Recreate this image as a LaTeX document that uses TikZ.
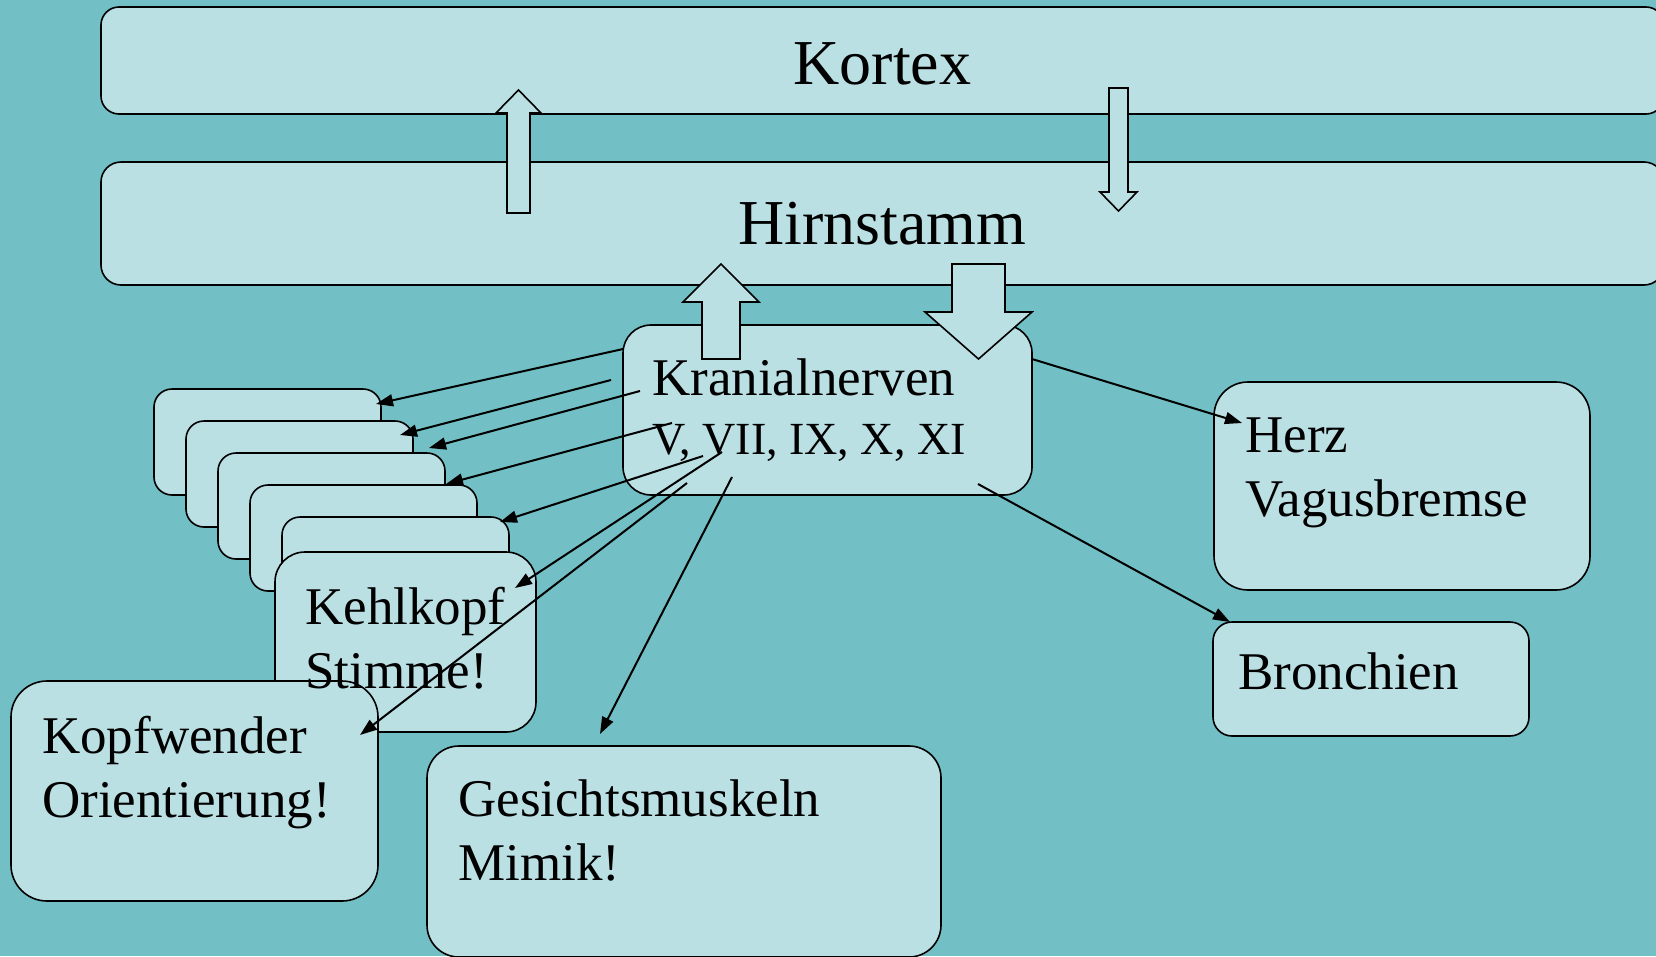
\documentclass[tikz,border=0pt]{standalone}
\usepackage{fontspec}
\setmainfont{Liberation Serif}
\usetikzlibrary{arrows.meta, positioning}
\definecolor{bgteal}{RGB}{114,191,197}
\definecolor{boxcyan}{RGB}{187,224,228}

\begin{document}
\begin{tikzpicture}[
  x=1pt, y=-1pt,
  box/.style={draw, fill=boxcyan, line width=1.6pt, anchor=north west,
              inner sep=0pt, outer sep=0pt},
  txt/.style={anchor=north west, align=left, inner sep=0pt,
              font=\fontsize{53}{64}\selectfont},
  big/.style={font=\fontsize{64}{70}\selectfont},
  arr/.style={-{Triangle[length=17pt, width=12pt]}, line width=2pt},
  hollow/.style={draw, fill=boxcyan, line width=1.6pt},
]
\fill[bgteal] (0,0) rectangle (1656,956);
\useasboundingbox (0,0) rectangle (1656,956);
\clip (0,0) rectangle (1656,956);

% stack of empty cards behind Kehlkopf
\foreach \i in {1,...,5}
  \node[box, rounded corners=18pt, minimum width=227pt, minimum height=106pt]
    (s\i) at (122+32*\i, 357+32*\i) {};

\node[box, rounded corners=30pt, minimum width=261pt, minimum height=180pt] (kehl) at (275,552) {};
\node[box, rounded corners=36pt, minimum width=367pt, minimum height=220pt] (kopf) at (11,681) {};
\node[box, rounded corners=32pt, minimum width=514pt, minimum height=211pt] (gesicht) at (427,746) {};
\node[box, rounded corners=34pt, minimum width=376pt, minimum height=208pt] (herz) at (1214,382) {};
\node[box, rounded corners=19pt, minimum width=316pt, minimum height=114pt] (bron) at (1213,622) {};

\node[box, big, text height=48pt, rounded corners=18pt, minimum width=1563pt, minimum height=107pt] (kortex) at (101,7) {Kortex};
\node[box, big, rounded corners=20pt, minimum width=1563pt, minimum height=123pt] (hirn) at (101,162) {Hirnstamm};
\node[box, rounded corners=28pt, minimum width=409pt, minimum height=170pt] (kran) at (623,325) {};

% texts
\node[txt] (krant) at ([shift={(29,34)}]kran.north west)
  {Kranialnerven\\[-5pt]{\fontsize{46}{64}\selectfont V, VII, IX, X, XI}};
\node[txt] (kehlt) at ([shift={(30,35)}]kehl.north west) {Kehlkopf\\Stimme!};
\node[txt] (kopft) at ([shift={(31,35)}]kopf.north west) {Kopfwender\\Orientierung!};
\node[txt] (gesichtt) at ([shift={(31,34)}]gesicht.north west) {Gesichtsmuskeln\\Mimik!};
\node[txt] (herzt) at ([shift={(31,36)}]herz.north west) {Herz\\Vagusbremse};
\node[txt] (bront) at ([shift={(25,31)}]bron.north west) {Bronchien};

% hollow block arrows
\draw[hollow] (507,213) -- (507,113) -- (496,113) -- (518.5,90) -- (541,113) -- (530,113) -- (530,213) -- cycle;
\draw[hollow] (1109,88) -- (1109,192) -- (1100,192) -- (1118.5,211) -- (1137,192) -- (1128,192) -- (1128,88) -- cycle;
\draw[hollow] (702,359) -- (702,302) -- (683,302) -- (721,264) -- (759,302) -- (740,302) -- (740,359) -- cycle;
\draw[hollow] (952,264) -- (952,312) -- (925,312) -- (978.5,359) -- (1032,312) -- (1005,312) -- (1005,264) -- cycle;

% nerve connections
\draw[arr] ([shift={(0,24)}]kran.north west) -- ([shift={(-5,15)}]s1.north east);
\draw[arr] ([shift={(-12,55)}]kran.north west) -- ([shift={(-13,14)}]s2.north east);
\draw[arr] ([shift={(17,66)}]kran.north west) -- ([shift={(-16,-5)}]s3.north east);
\draw[arr] ([shift={(49,98)}]kran.north west) -- ([shift={(-31,-1)}]s4.north east);
\draw[arr] ([shift={(80,131)}]kran.north west) -- ([shift={(-9,5)}]s5.north east);
\draw[arr] ([shift={(99,127)}]kran.north west) -- ([shift={(-21,36)}]kehl.north east);
\draw[arr] ([shift={(64,158)}]kran.north west) -- ([shift={(-18,54)}]kopf.north east);
\draw[arr] ([shift={(109,152)}]kran.north west) -- ([shift={(173,-12)}]gesicht.north west);
\draw[arr] ([shift={(0,34)}]kran.north east) -- ([shift={(28,41)}]herz.north west);
\draw[arr] ([shift={(-54,159)}]kran.north east) -- ([shift={(17,0)}]bron.north west);

\end{tikzpicture}
\end{document}
